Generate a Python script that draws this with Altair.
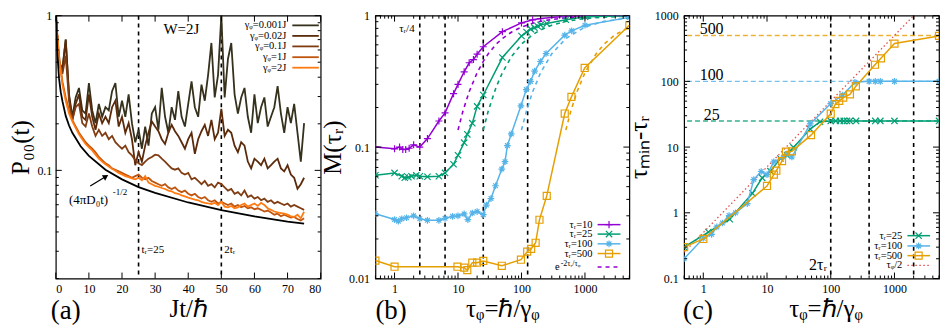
import math
import altair as alt
import pandas as pd

FONT = "Liberation Serif"

# ---------------- panel (a) data: P00(t) ----------------
T_A = list(range(76))
P_G0001 = [1.0, 0.50, 0.45, 0.70, 0.31, 0.222, 0.296, 0.341, 0.244, 0.233,
           0.367, 0.244, 0.202, 0.269, 0.222, 0.256, 0.244, 0.325, 0.367, 0.222,
           0.282, 0.222, 0.310, 0.202, 0.152, 0.183, 0.138, 0.192, 0.1445, 0.233,
           0.256, 0.183, 0.341, 0.222, 0.175, 0.256, 0.212, 0.325, 0.222, 0.192,
           0.269, 0.376, 0.256, 0.222, 0.358, 0.282, 0.413, 0.666, 0.296, 0.413,
           1.0, 0.296, 0.525, 0.666, 0.310, 0.233, 0.296, 0.341, 0.222, 0.175,
           0.310, 0.202, 0.256, 0.296, 0.192, 0.222, 0.256, 0.350, 0.233, 0.175,
           0.256, 0.202, 0.269, 0.175, 0.114, 0.202]
P_G002 = [1.0, 0.50, 0.45, 0.70, 0.30, 0.212, 0.269, 0.310, 0.222, 0.212,
          0.310, 0.222, 0.183, 0.233, 0.202, 0.222, 0.202, 0.256, 0.282, 0.192,
          0.222, 0.175, 0.202, 0.159, 0.108, 0.131, 0.114, 0.1445, 0.175, 0.207,
          0.192, 0.179, 0.159, 0.148, 0.175, 0.197, 0.179, 0.167, 0.152, 0.138,
          0.159, 0.175, 0.128, 0.159, 0.179, 0.197, 0.167, 0.212, 0.159, 0.175,
          0.25, 0.167, 0.183, 0.175, 0.1445, 0.131, 0.152, 0.1445, 0.114, 0.103,
          0.119, 0.114, 0.108, 0.119, 0.103, 0.108, 0.114, 0.119, 0.103, 0.0986,
          0.108, 0.094, 0.0896, 0.076, 0.0814, 0.0896]
P_G01 = [1.0, 0.50, 0.42, 0.55, 0.28, 0.212, 0.256, 0.269, 0.202, 0.192,
         0.233, 0.192, 0.167, 0.183, 0.167, 0.175, 0.159, 0.167, 0.152, 0.1445,
         0.138, 0.1445, 0.131, 0.125, 0.1165, 0.111, 0.108, 0.114, 0.119, 0.122,
         0.1263, 0.125, 0.119, 0.114, 0.108, 0.103, 0.101, 0.103, 0.0963, 0.094,
         0.0963, 0.0875, 0.0896, 0.0854, 0.0814, 0.0854, 0.0795, 0.0814, 0.0776, 0.0834,
         0.0815, 0.0776, 0.074, 0.0758, 0.0706, 0.0723, 0.0689, 0.074, 0.0673, 0.0689,
         0.0657, 0.0673, 0.0641, 0.0657, 0.0626, 0.0641, 0.0611, 0.0626, 0.0611, 0.0597,
         0.0611, 0.0583, 0.0597, 0.0583, 0.0569, 0.0556]
P_G1 = [1.0, 0.55, 0.376, 0.296, 0.244, 0.212, 0.192, 0.175, 0.163, 0.152,
        0.1445, 0.138, 0.131, 0.122, 0.1165, 0.111, 0.108, 0.103, 0.101, 0.0986,
        0.0963, 0.094, 0.0918, 0.0896, 0.0918, 0.094, 0.0896, 0.0875, 0.0896, 0.0854,
        0.0834, 0.0814, 0.0795, 0.0814, 0.0776, 0.0758, 0.0776, 0.074, 0.0723, 0.074,
        0.0706, 0.0689, 0.0706, 0.0673, 0.0657, 0.0673, 0.0641, 0.0626, 0.0641, 0.0611,
        0.0626, 0.0611, 0.0597, 0.0611, 0.0583, 0.0597, 0.0577, 0.0589, 0.0569, 0.0577,
        0.0561, 0.0569, 0.0556, 0.0542, 0.0550, 0.0535, 0.0517, 0.0525, 0.0505, 0.0517,
        0.0505, 0.0495, 0.050, 0.0485, 0.0475, 0.049]
P_G2 = [1.0, 0.525, 0.358, 0.282, 0.233, 0.207, 0.188, 0.171, 0.159, 0.148,
        0.141, 0.1345, 0.1263, 0.1193, 0.1138, 0.1095, 0.1059, 0.1024, 0.0995, 0.0963,
        0.094, 0.0918, 0.0905, 0.0887, 0.0875, 0.0896, 0.0863, 0.0918, 0.0834, 0.0814,
        0.0795, 0.0784, 0.0769, 0.0758, 0.074, 0.0733, 0.0712, 0.0706, 0.0689, 0.0679,
        0.0666, 0.0657, 0.0647, 0.0641, 0.0626, 0.0617, 0.0611, 0.0606, 0.0617, 0.0597,
        0.0626, 0.0583, 0.0577, 0.0589, 0.0569, 0.0577, 0.0597, 0.0611, 0.0583, 0.0597,
        0.0611, 0.0589, 0.0617, 0.0597, 0.0569, 0.0556, 0.0542, 0.0535, 0.0530, 0.0525,
        0.0517, 0.0505, 0.050, 0.0517, 0.049, 0.054]
T_DIFF = [0.15, 0.3, 0.5, 1, 1.5, 2, 3, 4, 5, 7.5, 10, 15, 20, 25, 30, 40, 50, 60, 70, 75]
P_DIFF = [1.0, 0.71, 0.55, 0.39, 0.32, 0.28, 0.225, 0.195, 0.175, 0.143, 0.124, 0.101,
          0.0875, 0.078, 0.0715, 0.062, 0.0553, 0.0505, 0.0467, 0.0452]
LABELS_A = ["γᵩ=0.001J", "γᵩ=0.02J", "γᵩ=0.1J", "γᵩ=1J", "γᵩ=2J"]
VLINES_A = [25, 50]
XTICKS_A = [0, 10, 20, 30, 40, 50, 60, 70, 80]

# ---------------- panel (b) data: M(tau_R) ----------------
TAU_B10 = [0.5, 1.0, 1.2, 1.35, 1.5, 1.7, 2.0, 2.5, 3.3, 5.0, 6.25, 8.5, 10, 12.5, 15, 17.5,
           20, 25, 50, 100, 150, 200, 500, 1000, 5000]
M_B10 = [0.1, 0.097, 0.1, 0.096, 0.096, 0.098, 0.104, 0.1, 0.116, 0.158, 0.182, 0.255, 0.30,
         0.374, 0.438, 0.463, 0.509, 0.58, 0.755, 0.88, 0.93, 0.95, 0.99, 1.0, 1.0]
TAU_B25 = [0.5, 1.0, 1.3, 1.45, 1.65, 1.85, 2.2, 2.5, 3.3, 5.0, 6.25, 8.5, 10, 12.5, 14, 16.8,
           20, 25, 50, 100, 120, 140, 160, 180, 200, 250, 500, 1000, 5000]
M_B25 = [0.061, 0.0636, 0.060, 0.0585, 0.059, 0.060, 0.061, 0.060, 0.0595, 0.060, 0.0636,
         0.074, 0.0867, 0.108, 0.125, 0.152, 0.204, 0.249, 0.48, 0.70, 0.75, 0.79, 0.81,
         0.83, 0.85, 0.87, 0.93, 0.98, 1.0]
TAU_B100 = [0.5, 1.0, 1.15, 1.3, 1.55, 2.0, 2.5, 3.3, 5.0, 6.25, 8.2, 10, 12.5, 14.3, 16.8,
            20, 25, 28, 33, 39, 49, 55, 60, 69, 98, 119, 139, 161, 199, 244, 480, 618,
            1000, 5000]
M_B100 = [0.0311, 0.0281, 0.0273, 0.0285, 0.029, 0.030, 0.0285, 0.0277, 0.0277, 0.0287,
          0.0297, 0.030, 0.031, 0.0281, 0.0315, 0.0323, 0.0306, 0.0362, 0.0406, 0.0508,
          0.068, 0.0774, 0.1026, 0.126, 0.206, 0.274, 0.316, 0.378, 0.448, 0.515, 0.71,
          0.767, 0.845, 0.97]
TAU_B500 = [0.5, 1.0, 9.8, 12.5, 14, 16.8, 20, 25, 49, 98, 123, 142, 167, 192, 250, 480,
            612, 990, 5000]
M_B500 = [0.0137, 0.0123, 0.0123, 0.0121, 0.0116, 0.0132, 0.0132, 0.0136, 0.0125, 0.0139,
          0.016, 0.0168, 0.0187, 0.028, 0.0425, 0.18, 0.241, 0.40, 0.845]
# dashed exp(-2 tau_R / tau_phi) curves
TAU_E10 = [10, 12, 15, 20, 25, 30, 40, 50, 70, 100, 150, 200, 300, 500, 1000, 2000, 5000]
M_E10 = [0.135, 0.189, 0.264, 0.368, 0.449, 0.513, 0.607, 0.670, 0.751, 0.819, 0.875,
         0.905, 0.936, 0.961, 0.980, 0.990, 0.996]
TAU_E25 = [25, 30, 40, 50, 70, 100, 150, 200, 300, 500, 1000, 2000, 5000]
M_E25 = [0.135, 0.189, 0.287, 0.368, 0.490, 0.607, 0.717, 0.779, 0.846, 0.905, 0.951,
         0.975, 0.990]
TAU_E100 = [100, 120, 150, 200, 300, 500, 1000, 2000, 5000]
M_E100 = [0.135, 0.189, 0.264, 0.368, 0.513, 0.670, 0.819, 0.905, 0.961]
TAU_E500 = [500, 600, 750, 1000, 1500, 2000, 3000, 5000]
M_E500 = [0.135, 0.189, 0.264, 0.368, 0.513, 0.607, 0.717, 0.819]
LABELS_B = ["τᵣ=10", "τᵣ=25", "τᵣ=100", "τᵣ=500"]
VLINES_B = [2.5, 6.25, 25, 125]

# ---------------- panel (c) data: tau_min - tau_R ----------------
TAU_C25 = [0.5, 1.2, 2.6, 5.9, 8.4, 11.3, 16.2, 20.6, 26, 47.6, 68, 100, 120, 140, 160,
           180, 200, 250, 500, 600, 1000, 5000]
D_C25 = [0.30, 0.51, 0.80, 1.98, 3.4, 4.3, 6.7, 7.5, 9.9, 18.8, 24.3, 25, 25, 25, 25, 25,
         25, 25, 25, 25, 25, 25]
TAU_C100 = [0.5, 1.0, 1.35, 1.63, 2.0, 2.54, 3.2, 4.9, 6.2, 8.1, 10, 12.8, 18, 20.6, 24.6,
            47.6, 100, 154, 240, 400, 500, 600, 1000, 5000]
D_C100 = [0.2, 0.41, 0.47, 0.61, 0.70, 0.91, 1.0, 1.38, 3.2, 4.25, 3.8, 5.96, 7.0, 7.9,
          7.06, 22.5, 46, 62, 97, 100, 100, 100, 100, 100]
TAU_C500 = [0.5, 1.0, 10, 12.8, 14, 17.2, 19.8, 24.6, 49, 100, 118, 136, 157, 200, 248,
            495, 614, 1000, 5000]
D_C500 = [0.30, 0.40, 2.56, 3.8, 4.37, 6.1, 8.5, 8.6, 15.2, 32.2, 45, 50.6, 56.6, 63.4, 84,
          179, 224, 376, 492]
TAU_HALF = [0.5, 2000]
D_HALF = [0.25, 1000]
HLINES_C = [25, 100, 500]
HLABELS_C = ["25", "100", "500"]
VLINES_C = [100, 400, 2000]
LABELS_C = ["τᵣ=25", "τᵣ=100", "τᵣ=500", "τᵩ/2"]

# ---------------- styles ----------------
COL_A = ["#35311c", "#5b2a0b", "#7f3c12", "#c0550f", "#ff7b12"]
C10, C25, C100, C500 = "#9400d3", "#009e73", "#56b4e9", "#e69f00"
CRED = "#e05050"
PLUS = "M-1,0L1,0M0,-1L0,1"
CROSS = "M-1,-1L1,1M-1,1L1,-1"
STAR = "M-1,0L1,0M0,-1L0,1M-0.7,-0.7L0.7,0.7M-0.7,0.7L0.7,-0.7"

WA, WB, WC, H = 266, 255, 256, 264
LEG = 10.5


def one(s):
    return alt.Chart(pd.DataFrame({"s": [s]}))


def note(s, x, y, size=10, align="left", baseline="middle", color="black"):
    return one(s).mark_text(font=FONT, fontSize=size, align=align, baseline=baseline,
                            color=color).encode(x=alt.value(x), y=alt.value(y), text="s:N")


def X(P, f="x"):
    return alt.X(f + ":Q", scale=P["xs"], axis=P["ax"])


def Y(P, f="y"):
    return alt.Y(f + ":Q", scale=P["ys"], axis=P["ay"])


def line(P, x, y, color, width=1.5, dash=None):
    kw = dict(color=color, strokeWidth=width, clip=True)
    if dash:
        kw["strokeDash"] = dash
    return alt.Chart(pd.DataFrame({"x": x, "y": y})).mark_line(**kw).encode(x=X(P), y=Y(P))


def points(P, x, y, color, shape, size=50):
    return alt.Chart(pd.DataFrame({"x": x, "y": y})).mark_point(
        shape=shape, size=size, color=color, filled=False, strokeWidth=1.2, opacity=1,
        clip=True).encode(x=X(P), y=Y(P))


def vlines(P, vals, color="black"):
    return alt.Chart(pd.DataFrame({"x": vals})).mark_rule(
        color=color, strokeDash=[4, 4], strokeWidth=1.6).encode(x=X(P))


def ticks(P, W, xmaj, xmin, ymaj, ymin, L=6, l=3):
    out = []
    m = dict(color="black", strokeWidth=1)
    for vals, ln in ((xmaj, L), (xmin, l)):
        if vals:
            ch = alt.Chart(pd.DataFrame({"x": vals}))
            out.append(ch.mark_rule(**m).encode(x=X(P), y=alt.value(H), y2=alt.value(H - ln)))
            out.append(ch.mark_rule(**m).encode(x=X(P), y=alt.value(0), y2=alt.value(ln)))
    for vals, ln in ((ymaj, L), (ymin, l)):
        if vals:
            ch = alt.Chart(pd.DataFrame({"y": vals}))
            out.append(ch.mark_rule(**m).encode(y=Y(P), x=alt.value(0), x2=alt.value(ln)))
            out.append(ch.mark_rule(**m).encode(y=Y(P), x=alt.value(W), x2=alt.value(W - ln)))
    return out


def hrule(x1, x2, y, color, dash=None, width=1.6):
    kw = dict(color=color, strokeWidth=width)
    if dash:
        kw["strokeDash"] = dash
    return one("r").mark_rule(**kw).encode(x=alt.value(x1), x2=alt.value(x2), y=alt.value(y))


def marker(x, y, color, shape, size=50):
    return one("m").mark_point(shape=shape, size=size, color=color, filled=False,
                               strokeWidth=1.2, opacity=1).encode(x=alt.value(x), y=alt.value(y))


def logminor(exps):
    return [m * 10.0 ** e for e in exps for m in range(2, 10)]


XMIN_TAU = [0.5, 0.6, 0.7, 0.8, 0.9] + logminor([0, 1, 2]) + [2000, 3000, 4000, 5000]
XMAJ_TAU = [1, 10, 100, 1000]

AXK = dict(labelPadding=5, titlePadding=2, titleFontSize=25)

# ======================= panel (a) =======================
PA = dict(xs=alt.Scale(domain=[0, 80], nice=False, zero=False),
          ys=alt.Scale(type="log", domain=[0.02, 1], nice=False),
          ax=alt.Axis(values=XTICKS_A, title="Jt/ℏ", **AXK),
          ay=alt.Axis(values=[0.1, 1], format="~g", title="P₀₀(t)", labelPadding=4,
                      titlePadding=3, titleFontSize=25))
la = [vlines(PA, VLINES_A)]
for vals, col in zip([P_G0001, P_G002, P_G01, P_G1, P_G2], COL_A):
    la.append(line(PA, T_A, vals, col, 1.8))
la.append(line(PA, T_DIFF, P_DIFF, "black", 1.8))
la += ticks(PA, WA, XTICKS_A, [], [0.1, 1], logminor([-2, -1]))
rows_a = [0.037, 0.077, 0.117, 0.158, 0.198]
for lab, col, r in zip(LABELS_A, COL_A, rows_a):
    la.append(note(lab, 0.87 * WA, r * H, size=LEG, align="right"))
    la.append(hrule(0.893 * WA, 0.993 * WA, r * H, col, width=1.8))
la.append(note("W=2J", 0.474 * WA, 0.05 * H, size=15, align="center"))
la.append(note("tᵣ=25", WA * 25 / 80 + 3, 0.89 * H, size=11))
la.append(note("2tᵣ", WA * 50 / 80 + 3, 0.89 * H, size=11))
la.append(note("(4πD₀t)", 0.05 * WA, 0.70 * H, size=13))
la.append(note("-1/2", 0.05 * WA + 44, 0.672 * H, size=9))
ax0, ay0, ax1, ay1 = 0.13 * WA, 0.648 * H, 0.189 * WA, 0.612 * H
la.append(one("a").mark_rule(color="black", strokeWidth=1.3).encode(
    x=alt.value(ax0), x2=alt.value(ax1), y=alt.value(ay0), y2=alt.value(ay1)))
ang = math.degrees(math.atan2(ax1 - ax0, ay0 - ay1))
la.append(one("h").mark_point(shape="triangle-up", size=40, filled=True, color="black",
                              opacity=1, angle=ang).encode(x=alt.value(ax1), y=alt.value(ay1)))
la.append(note("(a)", -5, H + 33, size=27))
panel_a = alt.layer(*la).properties(width=WA, height=H)

# ======================= panel (b) =======================
PB = dict(xs=alt.Scale(type="log", domain=[0.5, 5000], nice=False),
          ys=alt.Scale(type="log", domain=[0.01, 1], nice=False),
          ax=alt.Axis(values=XMAJ_TAU, format="~g", title="τᵩ=ℏ/γᵩ", **AXK),
          ay=alt.Axis(values=[0.01, 0.1, 1], format="~g", title="M(τᵣ)", labelPadding=6,
                      titlePadding=3, titleFontSize=25))
lb = [vlines(PB, VLINES_B)]
for tx, my, col in ((TAU_E10, M_E10, C10), (TAU_E25, M_E25, C25),
                    (TAU_E100, M_E100, C100), (TAU_E500, M_E500, C500)):
    lb.append(line(PB, tx, my, col, 1.6, dash=[4, 4]))
for tx, my, col, shp, sz in ((TAU_B10, M_B10, C10, PLUS, 50),
                             (TAU_B25, M_B25, C25, CROSS, 40),
                             (TAU_B100, M_B100, C100, STAR, 45),
                             (TAU_B500, M_B500, C500, "square", 50)):
    lb.append(line(PB, tx, my, col, 1.5))
    lb.append(points(PB, tx, my, col, shp, sz))
lb += ticks(PB, WB, XMAJ_TAU, XMIN_TAU, [0.01, 0.1, 1], logminor([-2, -1]))
rows_b = [0.795, 0.831, 0.868, 0.905]
for lab, col, shp, r, sz in zip(LABELS_B, [C10, C25, C100, C500],
                                [PLUS, CROSS, STAR, "square"], rows_b, [50, 40, 45, 50]):
    lb.append(note(lab, 0.855 * WB, r * H, size=LEG, align="right"))
    lb.append(hrule(0.875 * WB, 0.965 * WB, r * H, col, width=1.5))
    lb.append(marker(0.92 * WB, r * H, col, shp, sz))
lb.append(note("e", 0.855 * WB - 33, 0.958 * H, size=LEG, align="right"))
lb.append(note("-2τᵣ/τᵩ", 0.855 * WB - 32, 0.945 * H, size=8))
lb.append(hrule(0.875 * WB, 0.965 * WB, 0.956 * H, C10, dash=[4, 4], width=1.6))
lb.append(note("τᵣ/4", 0.124 * WB, 0.05 * H, size=11, align="center"))
lb.append(note("(b)", 0, H + 33, size=27))
panel_b = alt.layer(*lb).properties(width=WB, height=H)

# ======================= panel (c) =======================
PC = dict(xs=alt.Scale(type="log", domain=[0.5, 5000], nice=False),
          ys=alt.Scale(type="log", domain=[0.1, 1000], nice=False),
          ax=alt.Axis(values=XMAJ_TAU, format="~g", title="τᵩ=ℏ/γᵩ", titleX=WC / 2 + 14, **AXK),
          ay=alt.Axis(values=[0.1, 1, 10, 100, 1000], format="~g", title="τₘᵢₙ-τᵣ",
                      labelPadding=6, titlePadding=3, titleFontSize=25))
lc = [vlines(PC, VLINES_C)]
hdf = pd.DataFrame({"y": HLINES_C, "lab": HLABELS_C})
hcol = alt.Scale(domain=HLABELS_C, range=[C25, C100, C500])
lc.append(alt.Chart(hdf).mark_rule(strokeDash=[5, 3], strokeWidth=1.4, opacity=0.8).encode(
    y=Y(PC), color=alt.Color("lab:N", scale=hcol, legend=None)))
lc.append(alt.Chart(hdf).mark_text(font=FONT, fontSize=16, baseline="alphabetic", dy=-1,
                                   align="center", color="black").encode(
    y=Y(PC), x=alt.value(0.108 * WC), text="lab:N"))
lc.append(line(PC, TAU_HALF, D_HALF, CRED, 1.3, dash=[1.5, 2.5]))
for tx, dy, col, shp, sz in ((TAU_C25, D_C25, C25, CROSS, 40),
                             (TAU_C100, D_C100, C100, STAR, 45),
                             (TAU_C500, D_C500, C500, "square", 50)):
    lc.append(line(PC, tx, dy, col, 1.5))
    lc.append(points(PC, tx, dy, col, shp, sz))
lc += ticks(PC, WC, XMAJ_TAU, XMIN_TAU, [0.1, 1, 10, 100, 1000], logminor([-1, 0, 1, 2]))
rows_c = [0.837, 0.876, 0.913]
for lab, col, shp, r, sz in zip(LABELS_C[:3], [C25, C100, C500], [CROSS, STAR, "square"],
                                rows_c, [40, 45, 50]):
    lc.append(note(lab, 0.856 * WC, r * H, size=LEG, align="right"))
    lc.append(hrule(0.876 * WC, 0.965 * WC, r * H, col, width=1.5))
    lc.append(marker(0.92 * WC, r * H, col, shp, sz))
lc.append(note(LABELS_C[3], 0.856 * WC, 0.95 * H, size=LEG, align="right"))
lc.append(hrule(0.876 * WC, 0.965 * WC, 0.95 * H, CRED, dash=[1.5, 2.5], width=1.3))
lc.append(note("2τᵣ", 0.561 * WC, 0.947 * H, size=16, align="right"))
lc.append(note("(c)", -1, H + 33, size=27))
panel_c = alt.layer(*lc).properties(width=WC, height=H)

chart = alt.hconcat(panel_a, panel_b, panel_c, spacing=55, bounds="flush").properties(
    padding={"left": 0, "top": 0, "right": 0, "bottom": 0}
).configure_view(stroke="black", strokeWidth=1.2).configure_axis(
    labelFont=FONT, labelFontSize=12, labelColor="black", titleFont=FONT,
    titleFontWeight="normal", titleColor="black", grid=False, domain=False, ticks=False)

chart.save("out.html", embed_options={"renderer": "svg", "actions": False})
